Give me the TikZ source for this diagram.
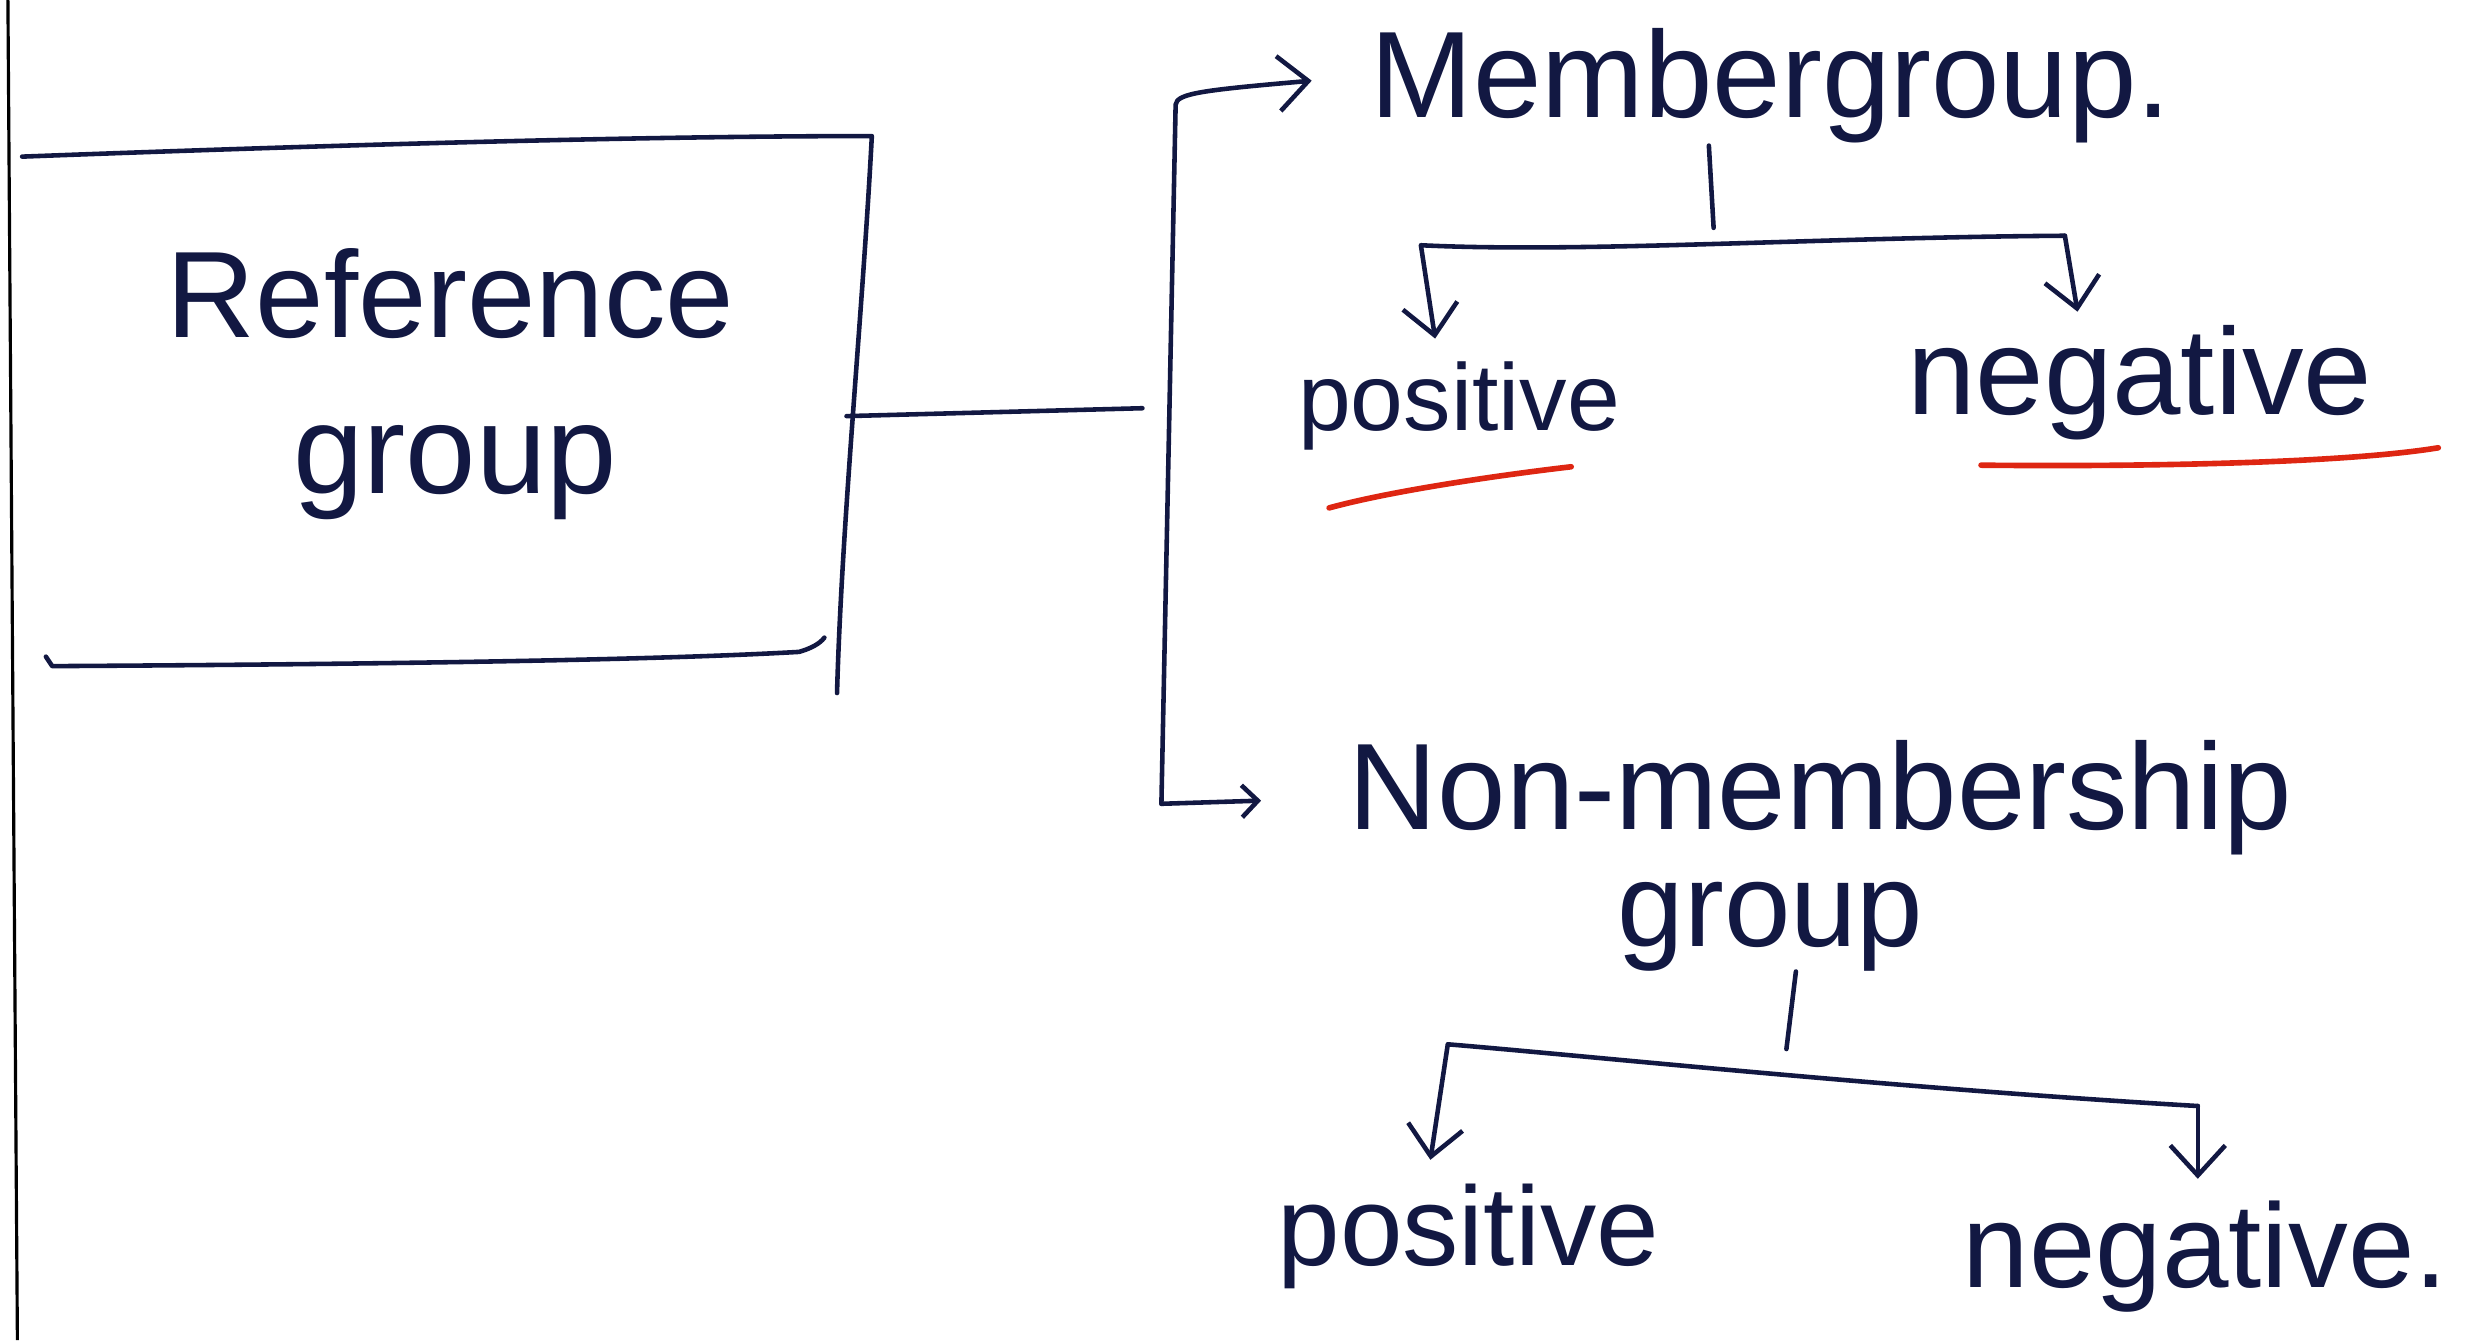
\documentclass[tikz,border=0pt]{standalone}
\usepackage{fontspec}
\setmainfont{Liberation Sans}
\usetikzlibrary{arrows.meta}
\definecolor{ink}{RGB}{18,24,66}
\definecolor{marker}{RGB}{222,38,18}
\begin{document}
\begin{tikzpicture}[x=0.015823cm,y=-0.015823cm,
  pen/.style={draw=ink,line width=1.3pt,line cap=round,line join=round},
  redpen/.style={draw=marker,line width=1.6pt,line cap=round},
  barb/.style={-{Straight Barb[length=3mm,width=5.5mm]}},
  smallbarb/.style={-{Straight Barb[length=1.6mm,width=3.2mm]}},
  word/.style={text=ink,inner sep=0pt,anchor=base west},
]
\useasboundingbox[fill=white] (0,0) rectangle (1568,847);

% page margin rule
\draw[black,line width=0.9pt] (5,0) -- (11,847);

% texts
\node[word,font=\fontsize{35}{40}\selectfont] (ref1) at (105,213) {Reference};
\node[word,font=\fontsize{36}{40}\selectfont] (ref2) at (185,312) {group};
\node[word,font=\fontsize{35}{40}\selectfont] (mg) at (866,74) {Membergroup.};
\node[word,font=\fontsize{27}{30}\selectfont] (mgpos) at (820,272) {positive};
\node[word,font=\fontsize{35}{40}\selectfont] (mgneg) at (1205,262) {negative};
\node[word,font=\fontsize{35}{40}\selectfont] (nm1) at (852,524) {Non-membership};
\node[word,font=\fontsize{34}{38}\selectfont] (nm2) at (1022,598) {group};
\node[word,font=\fontsize{32}{36}\selectfont] (nmpos) at (807,800) {positive};
\node[word,font=\fontsize{34}{38}\selectfont] (nmneg) at (1240,814) {negative.};

% open box round the reference group
\draw[pen] (14,99) .. controls (200,92) and (400,86) .. (551,86)
  .. controls (545,200) and (532,330) .. (529,438);
\draw[pen] (29,415) -- (33,421) .. controls (200,420) and (400,418) .. (505,412)
  .. controls (512,410) and (518,407) .. (521,403);

% connectors
\coordinate (boxR) at (535,263);
\coordinate (brk) at (722,258);
\coordinate (bl) at (734,508);
\coordinate (bt) at (743,66);
\coordinate (mgTip) at (829,51);
\coordinate (nmTip) at (797,506);
\draw[pen] (boxR) -- (brk);
\draw[pen,barb] (bl) -- (bt) .. controls (744,59) and (760,57) .. (mgTip);
\draw[pen,smallbarb] (bl) -- (nmTip);

% member group split
\coordinate (mgT1) at (1080,92);
\coordinate (mgT2) at (1083,144);
\coordinate (mgL) at (898,155);
\coordinate (mgR) at (1305,149);
\coordinate (mgLtip) at (907,214);
\coordinate (mgRtip) at (1313,197);
\draw[pen] (mgT1) -- (mgT2);
\draw[pen,barb] (mgR) .. controls (1150,150) and (1000,160) .. (mgL) -- (mgLtip);
\draw[pen,barb] (mgR) -- (mgRtip);

% non-membership group split
\coordinate (nmT1) at (1135,614);
\coordinate (nmT2) at (1129,663);
\coordinate (nmL) at (915,660);
\coordinate (nmR) at (1389,699);
\coordinate (nmLtip) at (904,733);
\coordinate (nmRtip) at (1389,745);
\draw[pen] (nmT1) -- (nmT2);
\draw[pen,barb] (nmR) .. controls (1200,688) and (1000,667) .. (nmL) -- (nmLtip);
\draw[pen,barb] (nmR) -- (nmRtip);

% red underlines
\draw[redpen] (840,321) .. controls (880,310) and (950,300) .. (993,295);
\draw[redpen] (1252,294) .. controls (1350,295) and (1480,293) .. (1541,283);
\end{tikzpicture}
\end{document}
